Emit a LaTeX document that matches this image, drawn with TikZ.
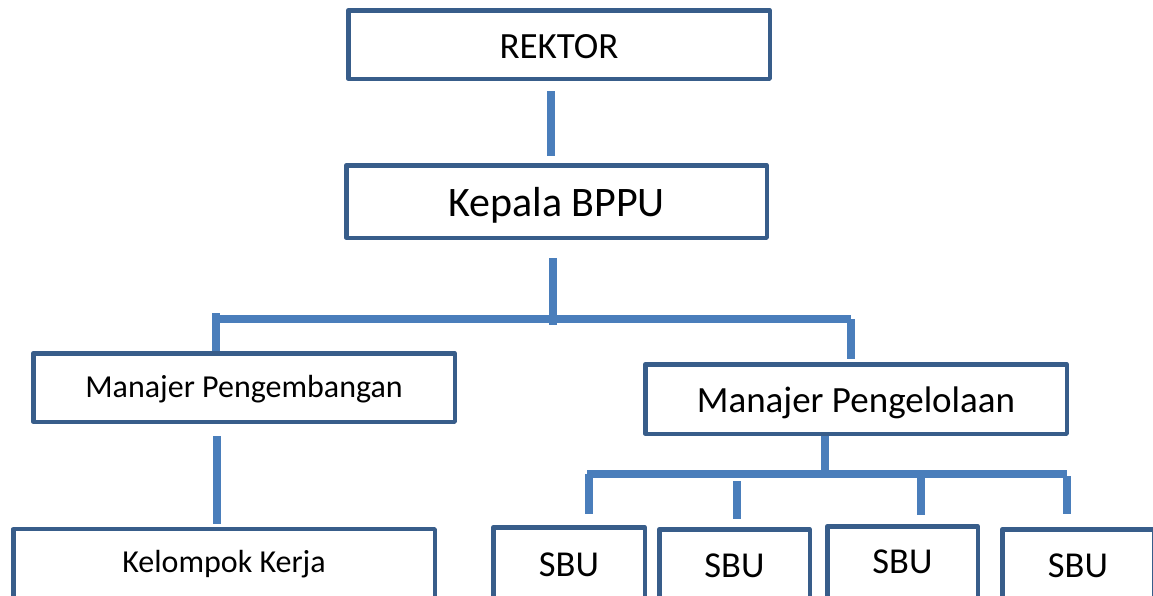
\documentclass[tikz,border=0pt]{standalone}
\usepackage{fontspec}
\setmainfont{Carlito}
\definecolor{boxline}{HTML}{385D8A}
\definecolor{linkline}{HTML}{4A7EBB}
\tikzset{box/.style={draw=boxline, line width=4.5pt, line join=round, fill=white, inner sep=0pt, text depth=0pt},
         link/.style={draw=linkline, line width=7.5pt}}

\begin{document}
\begin{tikzpicture}[x=1pt,y=-1pt]
   \clip (0,0) rectangle (1153,595);
   \node[box, minimum width=421.5pt, minimum height=68.5pt, text height=27pt, font=\fontsize{37}{44}\selectfont] (rektor) at (559,44.5) {REKTOR};
   \node[box, minimum width=420.5pt, minimum height=72.5pt, text height=30.4pt, font=\fontsize{42}{50}\selectfont] (kepala) at (556.5,201.5) {Kepala BPPU};
   \node[box, minimum width=421.5pt, minimum height=68.5pt, text height=19pt, font=\fontsize{32}{38}\selectfont] (pengembangan) at (244,387.5) {Manajer Pengembangan};
   \node[box, minimum width=421.5pt, minimum height=69.5pt, text height=27.4pt, font=\fontsize{37}{44}\selectfont] (pengelolaan) at (856,399) {Manajer Pengelolaan};
   \node[box, minimum width=421.5pt, minimum height=70.75pt, text height=14.8pt, font=\fontsize{32}{38}\selectfont] (kelompok) at (224,564.6) {Kelompok Kerja};
   \node[box, minimum width=151.5pt, minimum height=76.5pt, text height=21pt, font=\fontsize{36.5}{44}\selectfont] (sbu1) at (569,565.5) {SBU};
   \node[box, minimum width=150.5pt, minimum height=74.5pt, text height=21pt, font=\fontsize{36.5}{44}\selectfont] (sbu2) at (734.5,566.5) {SBU};
   \node[box, minimum width=150.5pt, minimum height=77.5pt, text height=16pt, font=\fontsize{36.5}{44}\selectfont] (sbu3) at (902.5,565) {SBU};
   \node[box, minimum width=151.5pt, minimum height=74.5pt, text height=21pt, font=\fontsize{36.5}{44}\selectfont] (sbu4) at (1078,566.5) {SBU};

   \coordinate (j1) at (553,319);
   \coordinate (busL) at (216,319);
   \coordinate (busR) at (851,319);
   \coordinate (j2) at (825,474);
   \coordinate (bus2L) at (589,474);
   \coordinate (bus2R) at (1067,474);

   \draw[link, shorten <=10pt, shorten >=7pt] (rektor.south -| 551,0) -- (kepala.north -| 551,0);
   \draw[link, shorten <=18pt, shorten >=-6pt] (kepala.south -| j1) -- (j1);
   \draw[link] ([xshift=-3pt]busL) -- (busR);
   \draw[link] ([yshift=6pt]busL) -- (busL |- pengembangan.north);
   \draw[link, shorten >=3pt] (busR) -- (busR |- pengelolaan.north);
   \draw[link, shorten <=12pt, shorten >=3pt] (pengembangan.south -| 217,0) -- (kelompok.north -| 217,0);

   \draw[link] (pengelolaan.south -| j2) -- (j2);
   \draw[link] ([xshift=-2pt]bus2L) -- (bus2R);
   \draw[link, shorten >=11pt] (bus2L) -- (bus2L |- sbu1.north);
   \draw[link, shorten <=7pt, shorten >=8pt] (bus2L -| 737,0) -- (sbu2.north -| 737,0);
   \draw[link, shorten >=9pt] (bus2L -| 921,0) -- (sbu3.north -| 921,0);
   \draw[link, shorten <=2pt, shorten >=13pt] (bus2R) -- (bus2R |- sbu4.north);
\end{tikzpicture}
\end{document}
